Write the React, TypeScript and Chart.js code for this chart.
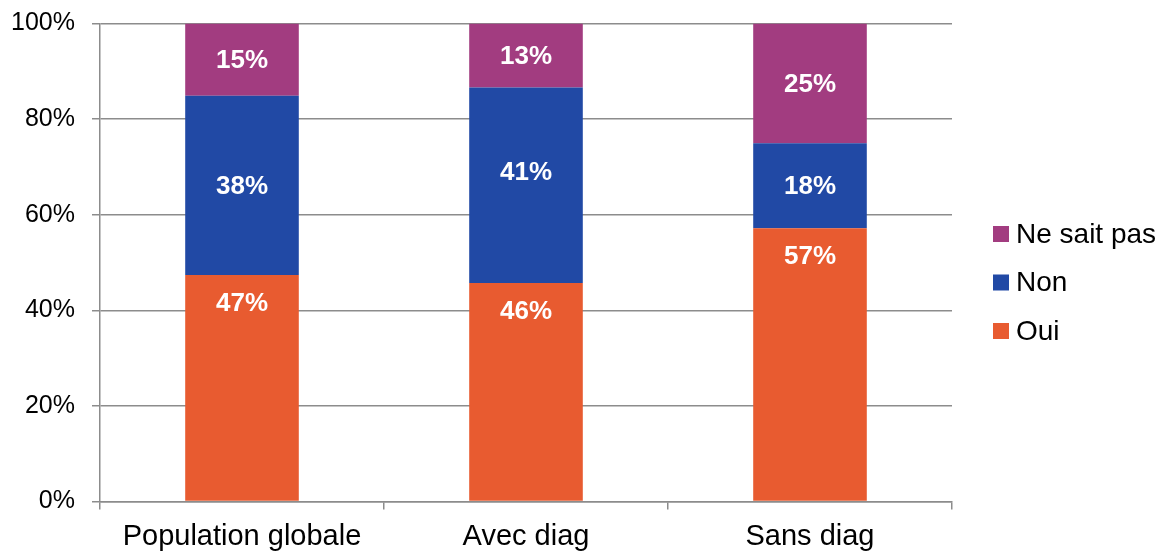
import React, { useEffect, useRef } from "react";
import { Chart, registerables } from "chart.js";

Chart.register(...registerables);

const categories = ["Population globale", "Avec diag", "Sans diag"];
const oui = [47.4, 45.7, 57.15];
const non = [37.5, 40.9, 17.8];
const neSaitPas = [15.1, 13.4, 25.05];
const seriesNames = ["Oui", "Non", "Ne sait pas"];
const yTickValues = [0, 20, 40, 60, 80, 100];

const FONT = "'Liberation Sans', Arial, sans-serif";
const GRID = "#8c8c8c";

const segmentLabels = {
  id: "segmentLabels",
  afterDatasetsDraw(chart: any) {
    const ctx = chart.ctx;
    ctx.save();
    ctx.font = `bold 26px ${FONT}`;
    ctx.fillStyle = "#ffffff";
    ctx.textAlign = "center";
    ctx.textBaseline = "middle";
    chart.data.datasets.forEach((ds: any, di: number) => {
      const meta = chart.getDatasetMeta(di);
      meta.data.forEach((bar: any, i: number) => {
        const p = bar.getProps(["x", "y", "base"], true);
        const v = ds.data[i] as number;
        let cy = di === 0 ? p.y + 29 : (p.y + p.base) / 2 + 1.5;
        if (di === 1 && i === 1) cy -= 14;
        ctx.fillText(Math.round(v) + "%", p.x, cy);
      });
    });
    ctx.restore();
  },
};

const sideLegend = {
  id: "sideLegend",
  afterDraw(chart: any) {
    const ctx = chart.ctx;
    ctx.save();
    ctx.font = `28px ${FONT}`;
    ctx.textAlign = "left";
    ctx.textBaseline = "middle";
    const items = chart.data.datasets.slice().reverse();
    items.forEach((ds: any, k: number) => {
      const cy = 234 + k * 48.5;
      ctx.fillStyle = ds.backgroundColor;
      ctx.fillRect(993, cy - 8, 16, 16);
      ctx.fillStyle = "#000000";
      ctx.fillText(ds.label, 1016, cy + 1);
    });
    ctx.restore();
  },
};

export default function App() {
  const ref = useRef<HTMLCanvasElement | null>(null);

  useEffect(() => {
    if (!ref.current) return;
    const chart = new Chart(ref.current, {
      type: "bar",
      data: {
        labels: categories,
        datasets: [
          { label: seriesNames[0], data: oui, backgroundColor: "#e85b30" },
          { label: seriesNames[1], data: non, backgroundColor: "#2149a5" },
          { label: seriesNames[2], data: neSaitPas, backgroundColor: "#a23c80" },
        ],
      },
      options: {
        animation: false,
        responsive: true,
        maintainAspectRatio: false,
        layout: { padding: { top: 23.5, right: 211, bottom: 0, left: 0 } },
        datasets: {
          bar: { barPercentage: 0.4, categoryPercentage: 1 },
        },
        plugins: {
          legend: { display: false },
          tooltip: { enabled: false },
        },
        scales: {
          x: {
            stacked: true,
            grid: {
              offset: true,
              drawOnChartArea: false,
              drawTicks: true,
              tickLength: 8,
              color: GRID,
              lineWidth: 1.5,
            },
            border: { color: GRID, width: 1.5 },
            ticks: {
              color: "#000000",
              font: { family: FONT, size: 29 },
              padding: 10,
              maxRotation: 0,
            },
            afterFit: (s: any) => {
              s.height = 49.5;
              s.paddingLeft = 0;
              s.paddingRight = 0;
            },
          },
          y: {
            stacked: true,
            min: 0,
            max: 100,
            afterBuildTicks: (s: any) => {
              s.ticks = yTickValues.map((v) => ({ value: v }));
            },
            grid: {
              color: GRID,
              lineWidth: 1.5,
              tickLength: 8,
            },
            border: { color: GRID, width: 1.5 },
            ticks: {
              color: "#000000",
              font: { family: FONT, size: 25 },
              padding: 17,
              callback: (v: any) => v + "%",
            },
            afterFit: (s: any) => {
              s.width = 100;
              s.paddingTop = 0;
              s.paddingBottom = 0;
            },
          },
        },
      },
      plugins: [segmentLabels, sideLegend],
    });
    return () => chart.destroy();
  }, []);

  return (
    <div style={{ position: "fixed", left: 0, top: 0, width: 1163, height: 551, background: "#ffffff" }}>
      <canvas ref={ref} />
    </div>
  );
}
